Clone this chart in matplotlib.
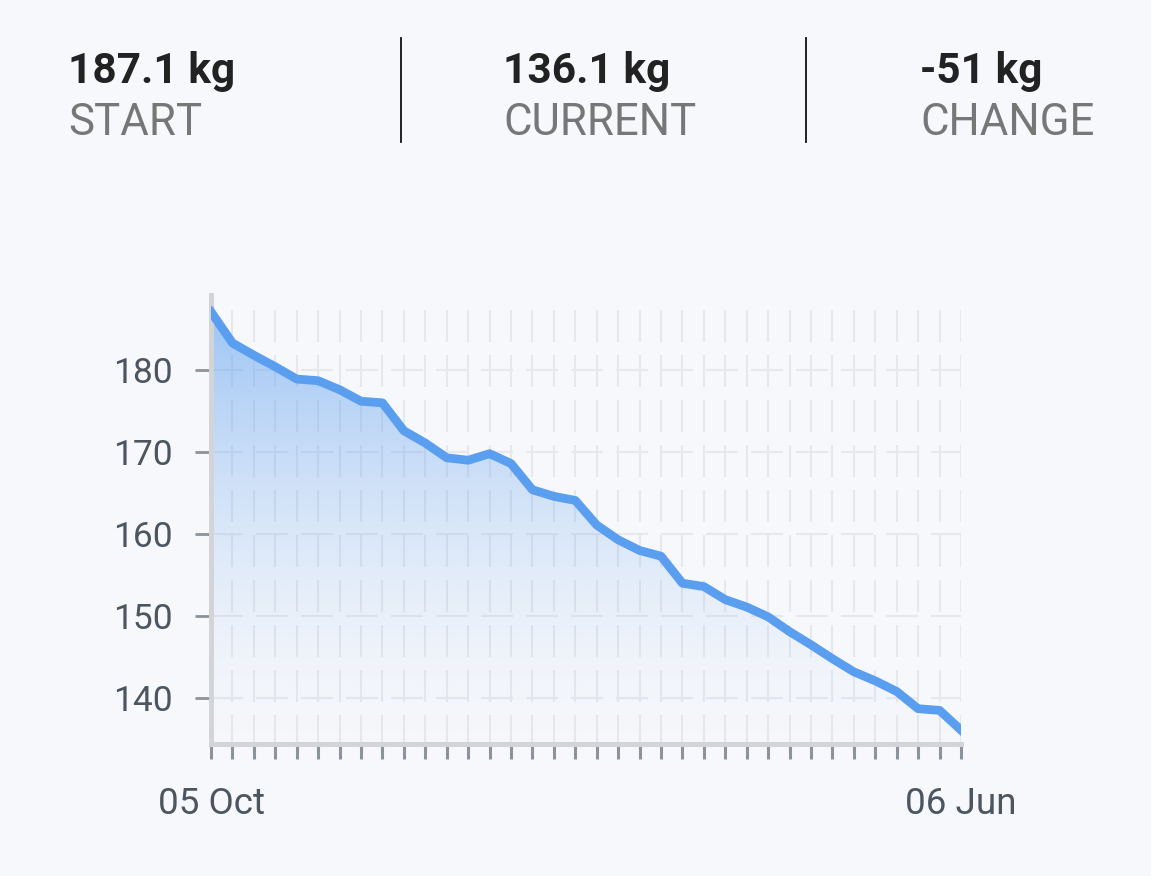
import matplotlib
matplotlib.use("Agg")
import matplotlib.pyplot as plt
import matplotlib.dates as mdates
import numpy as np
import pandas as pd

# weekly weigh-ins (kg)
weights = [187.1, 183.3, 181.8, 180.4, 178.9, 178.7, 177.6, 176.2, 176.0,
           172.6, 171.1, 169.3, 169.0, 169.8, 168.6, 165.4, 164.6, 164.1,
           161.1, 159.3, 158.0, 157.3, 154.0, 153.6, 152.0, 151.1, 149.9,
           148.1, 146.5, 144.8, 143.2, 142.1, 140.8, 138.7, 138.5, 136.1]
dates = pd.date_range("2019-10-05", periods=len(weights), freq="7D")
y_ticks = [140, 150, 160, 170, 180]
stat_values = ["187.1 kg", "136.1 kg", "-51 kg"]
stat_labels = ["START", "CURRENT", "CHANGE"]

plt.rcParams["font.family"] = ["Roboto", "DejaVu Sans"]
plt.rcParams["lines.scale_dashes"] = False

W, H = 1151, 876
BG = "#f7f8fb"
GRID = "#e6e8ec"
LINE = "#5a9eef"
LABEL = "#4c5661"

fig = plt.figure(figsize=(W / 100, H / 100), dpi=100, facecolor=BG)
ax = fig.add_axes([211 / W, (H - 744) / H, 750 / W, 449 / H])
ax.set_facecolor(BG)

x = mdates.date2num(dates)
ymin, ymax = 134.4, 189.15
ax.set_xlim(x[0], x[-1])
ax.set_ylim(ymin, ymax)

# dashed grid, vertical at every week, horizontal at y ticks
grid_top = 187.3
for xi in x[1:]:
    ax.plot([xi, xi], [grid_top, ymin], color=GRID, lw=1.5, dashes=(23, 9.4), zorder=1)
for yv in y_ticks:
    ax.plot([x[0], x[-1]], [yv, yv], color=GRID, lw=1.5, dashes=(23, 9.4), zorder=1)

# gradient fill under the line
poly = ax.fill_between(x, weights, ymin, color="none", lw=0)
grad = np.linspace(0, 1, 256)[:, None]
rgba = np.zeros((256, 1, 4))
rgba[..., 0] = 0x5a / 255
rgba[..., 1] = 0x9e / 255
rgba[..., 2] = 0xef / 255
rgba[..., 3] = 0.01 + 0.56 * grad ** 1.6
img = ax.imshow(rgba, extent=[x[0], x[-1], ymin, max(weights)], origin="lower",
                aspect="auto", zorder=2, interpolation="bilinear")
img.set_clip_path(poly.get_paths()[0], transform=ax.transData)

ax.plot(x, weights, color=LINE, lw=6.3, solid_joinstyle="round", zorder=5)

for side in ["top", "right"]:
    ax.spines[side].set_visible(False)
for side in ["left", "bottom"]:
    ax.spines[side].set_color("#d3d4d7")
    ax.spines[side].set_linewidth(3.6)
    ax.spines[side].set_zorder(4)

ax.set_yticks(y_ticks)
ax.set_xticks(x)
ax.set_xticklabels([dates[0].strftime("%d %b")] + [""] * (len(x) - 2)
                   + [dates[-1].strftime("%d %b")])
ax.tick_params(axis="y", length=11.5, width=2, color="#8b939b", pad=16,
               labelsize=25.5, labelcolor=LABEL)
ax.tick_params(axis="x", length=11, width=2.2, color="#8b939b", pad=19,
               labelsize=26.5, labelcolor=LABEL)

# header stats
xs = [68, 503, 920]
for xp, val, lab in zip(xs, stat_values, stat_labels):
    fig.text(xp / W, 1 - 83 / H, val, fontsize=30.5, fontweight="bold",
             color="#222222", va="baseline", ha="left")
    fig.text(xp / W, 1 - 135 / H, lab, fontsize=31.5, color="#777777",
             va="baseline", ha="left")
for xp in [401, 806]:
    fig.add_artist(plt.Line2D([xp / W, xp / W], [1 - 38 / H, 1 - 142 / H],
                              color="#111111", lw=1.3))

fig.savefig("out.png", dpi=100, facecolor=BG)
